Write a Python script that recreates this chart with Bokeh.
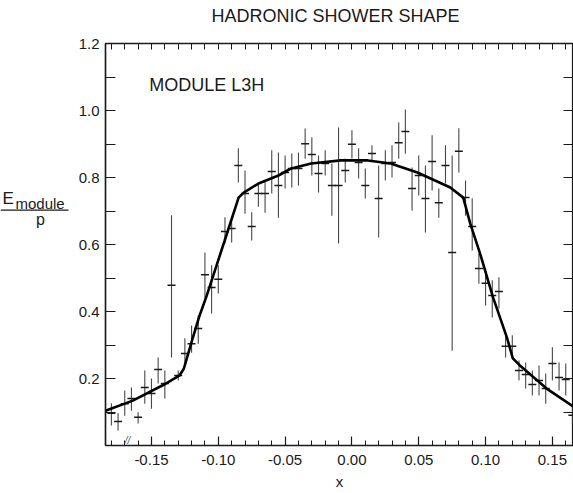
from bokeh.plotting import figure
from bokeh.layouts import row, column
from bokeh.models import Range1d, LinearAxis, FixedTicker, Label, Arrow, NumeralTickFormatter, ColumnDataSource
from bokeh.embed import file_html
from bokeh.resources import INLINE

# ---- data ----
x_pos = [-0.180, -0.175, -0.170, -0.165, -0.160, -0.155, -0.150, -0.145, -0.140, -0.135,
         -0.130, -0.125, -0.120, -0.115, -0.110, -0.105, -0.100, -0.095, -0.090, -0.085,
         -0.080, -0.075, -0.070, -0.065, -0.060, -0.055, -0.050, -0.045, -0.040, -0.035,
         -0.030, -0.025, -0.020, -0.015, -0.010, -0.005, 0.000, 0.005, 0.010, 0.015,
         0.020, 0.025, 0.030, 0.035, 0.040, 0.045, 0.050, 0.055, 0.060, 0.065,
         0.070, 0.075, 0.080, 0.085, 0.090, 0.095, 0.100, 0.105, 0.110, 0.115,
         0.120, 0.125, 0.130, 0.135, 0.140, 0.145, 0.150, 0.155, 0.160, 0.165]
y_val = [0.096, 0.072, 0.125, 0.140, 0.084, 0.173, 0.155, 0.227, 0.185, 0.478,
         0.209, 0.275, 0.304, 0.349, 0.510, 0.472, 0.496, 0.639, 0.648, 0.836,
         0.752, 0.654, 0.752, 0.752, 0.818, 0.776, 0.815, 0.827, 0.827, 0.901,
         0.869, 0.812, 0.842, 0.776, 0.776, 0.821, 0.899, 0.845, 0.776, 0.872,
         0.737, 0.842, 0.845, 0.904, 0.937, 0.767, 0.806, 0.737, 0.848, 0.725,
         0.836, 0.576, 0.878, 0.740, 0.654, 0.528, 0.484, 0.448, 0.460, 0.296,
         0.296, 0.224, 0.212, 0.182, 0.194, 0.170, 0.245, 0.203, 0.197, 0.090]
err_minus = [0.036, 0.027, 0.036, 0.036, 0.018, 0.048, 0.045, 0.042, 0.045, 0.215,
             0.015, 0.036, 0.027, 0.045, 0.069, 0.078, 0.042, 0.036, 0.042, 0.051,
             0.060, 0.042, 0.039, 0.057, 0.066, 0.096, 0.048, 0.057, 0.051, 0.045,
             0.063, 0.057, 0.036, 0.090, 0.173, 0.036, 0.042, 0.048, 0.039, 0.021,
             0.116, 0.051, 0.045, 0.048, 0.066, 0.066, 0.060, 0.101, 0.087, 0.045,
             0.054, 0.293, 0.063, 0.054, 0.072, 0.045, 0.066, 0.066, 0.051, 0.033,
             0.033, 0.030, 0.042, 0.033, 0.045, 0.045, 0.051, 0.039, 0.048, 0.024]
err_plus = [0.030, 0.024, 0.039, 0.033, 0.015, 0.051, 0.045, 0.036, 0.039, 0.209,
            0.015, 0.045, 0.054, 0.039, 0.066, 0.066, 0.042, 0.042, 0.018, 0.051,
            0.069, 0.042, 0.033, 0.039, 0.063, 0.099, 0.051, 0.045, 0.048, 0.045,
            0.051, 0.054, 0.039, 0.066, 0.173, 0.036, 0.042, 0.042, 0.051, 0.024,
            0.099, 0.039, 0.051, 0.060, 0.066, 0.063, 0.060, 0.099, 0.078, 0.042,
            0.060, 0.290, 0.069, 0.051, 0.084, 0.045, 0.045, 0.045, 0.042, 0.033,
            0.033, 0.030, 0.036, 0.042, 0.045, 0.045, 0.048, 0.045, 0.048, 0.024]

curve_x = [-0.1844, -0.164, -0.1405, -0.129, -0.1257, -0.1197, -0.1145, -0.1086, -0.0952,
           -0.0848, -0.081, -0.0699, -0.055, -0.0454, -0.0305, -0.0082, 0.0119, 0.029,
           0.049, 0.0736, 0.0833, 0.0885, 0.0959, 0.1056, 0.116, 0.1204, 0.1257, 0.1457, 0.1658]
curve_y = [0.104, 0.134, 0.182, 0.209, 0.230, 0.313, 0.382, 0.448, 0.612,
           0.740, 0.755, 0.782, 0.806, 0.827, 0.842, 0.851, 0.851, 0.842,
           0.815, 0.770, 0.740, 0.663, 0.573, 0.442, 0.322, 0.260, 0.239, 0.170, 0.116]

x_ticks = [-0.15, -0.10, -0.05, 0.00, 0.05, 0.10, 0.15]
x_minor = [-0.18, -0.17, -0.16, -0.14, -0.13, -0.12, -0.11, -0.09, -0.08, -0.07, -0.06,
           -0.04, -0.03, -0.02, -0.01, 0.01, 0.02, 0.03, 0.04, 0.06, 0.07, 0.08, 0.09,
           0.11, 0.12, 0.13, 0.14, 0.16]
y_ticks = [0.2, 0.4, 0.6, 0.8, 1.0, 1.2]
y_minor = [0.1, 0.3, 0.5, 0.7, 0.9, 1.1]

title_text = "HADRONIC SHOWER SHAPE"
module_text = "MODULE L3H"
x_label = "x"
ylab_top = "E"
ylab_sub = "module"
ylab_bottom = "p"

FONT = "Liberation Sans"
INK = "#1a1a1a"

def blank_strip(w, h):
    f = figure(width=w, height=h, output_backend="svg", toolbar_location=None,
               x_range=Range1d(0, w), y_range=Range1d(h, 0),
               x_axis_location=None, y_axis_location=None, min_border=0, title=None)
    f.grid.visible = False
    f.outline_line_color = None
    return f

# ---- title strip (pixel coordinates) ----
ts = blank_strip(573, 30)
ts.add_layout(Label(x=335, y=15, text=title_text, text_align="center", text_baseline="alphabetic",
                    text_font=FONT, text_font_size="18px", text_color=INK))

# ---- main plot ----
p = figure(width=498, height=463, output_backend="svg", toolbar_location=None, title=None,
           x_range=Range1d(-0.1844, 0.1658), y_range=Range1d(0, 1.2),
           min_border_left=28, min_border_right=0, min_border_top=13, min_border_bottom=48)
p.grid.visible = False
p.outline_line_color = INK
p.outline_line_width = 1.2

def style_axis(ax, ticks, minor):
    ax.ticker = FixedTicker(ticks=ticks, minor_ticks=minor)
    ax.axis_line_color = INK
    ax.axis_line_width = 1.5
    ax.major_tick_line_color = INK
    ax.minor_tick_line_color = INK
    ax.major_tick_line_width = 1.2
    ax.minor_tick_line_width = 1.0
    ax.major_tick_out = 0
    ax.minor_tick_out = 0
    ax.major_label_text_font = FONT
    ax.major_label_text_color = INK

xa = p.xaxis[0]
style_axis(xa, x_ticks, x_minor)
xa.formatter = NumeralTickFormatter(format="0.00")
xa.major_tick_in = 9
xa.minor_tick_in = 5
xa.major_label_text_font_size = "15px"
xa.major_label_standoff = 9
xa.axis_label = x_label
xa.axis_label_text_font = FONT
xa.axis_label_text_font_style = "normal"
xa.axis_label_text_font_size = "15px"
xa.axis_label_text_color = INK
xa.axis_label_standoff = 5

ya = p.yaxis[0]
style_axis(ya, y_ticks, y_minor)
ya.formatter = NumeralTickFormatter(format="0.0")
ya.major_tick_in = 10
ya.minor_tick_in = 10
ya.major_label_text_font_size = "15px"
ya.major_label_standoff = 6

# top and right axes: tick marks only (all ticks as minor ticks -> no labels)
top = LinearAxis()
style_axis(top, [], x_ticks + x_minor)
top.minor_tick_in = 6
top.major_label_standoff = 0
p.add_layout(top, "above")

right = LinearAxis()
style_axis(right, [], y_ticks + y_minor)
right.minor_tick_in = 10
right.major_label_standoff = 0
right.axis_line_color = None
p.add_layout(right, "right")

src = ColumnDataSource(dict(
    x=x_pos, y=y_val,
    lo=[v - m for v, m in zip(y_val, err_minus)],
    hi=[v + u for v, u in zip(y_val, err_plus)],
))
p.segment(x0="x", y0="lo", x1="x", y1="hi", source=src, line_color="#333333", line_width=1.1, line_alpha=0.9)
p.scatter(x="x", y="y", source=src, marker="dash", size=8, line_color=INK, line_width=1.5)
p.line(curve_x, curve_y, line_color="black", line_width=2.6)

p.add_layout(Label(x=-0.1517, y=1.0776, text=module_text, text_align="left",
                   text_baseline="alphabetic", text_font=FONT, text_font_size="18px", text_color=INK))
p.add_layout(Label(x=-0.168, y=0.016, text="//", text_align="center",
                   text_baseline="middle", text_font=FONT, text_font_size="10px",
                   text_font_style="italic", text_color="#555555"))

# ---- left strip holding the fraction-style y label (pixel coordinates) ----
yl = blank_strip(75, 463)
OFF = 30  # this strip starts 30 px below the page top
yl.add_layout(Label(x=2, y=209 - OFF, text=ylab_top, text_align="left", text_baseline="alphabetic",
                    text_font=FONT, text_font_size="17px", text_color=INK))
yl.add_layout(Label(x=15, y=214 - OFF, text=ylab_sub, text_align="left", text_baseline="alphabetic",
                    text_font=FONT, text_font_size="15px", text_color=INK))
yl.add_layout(Arrow(end=None, x_start=0, y_start=222 - OFF, x_end=68, y_end=222 - OFF,
                    line_color=INK, line_width=1.2))
yl.add_layout(Label(x=40, y=233 - OFF, text=ylab_bottom, text_align="center", text_baseline="alphabetic",
                    text_font=FONT, text_font_size="16px", text_color=INK))

layout = column(ts, row(yl, p, spacing=0), spacing=0)
open("out.html", "w").write(file_html(layout, INLINE))
